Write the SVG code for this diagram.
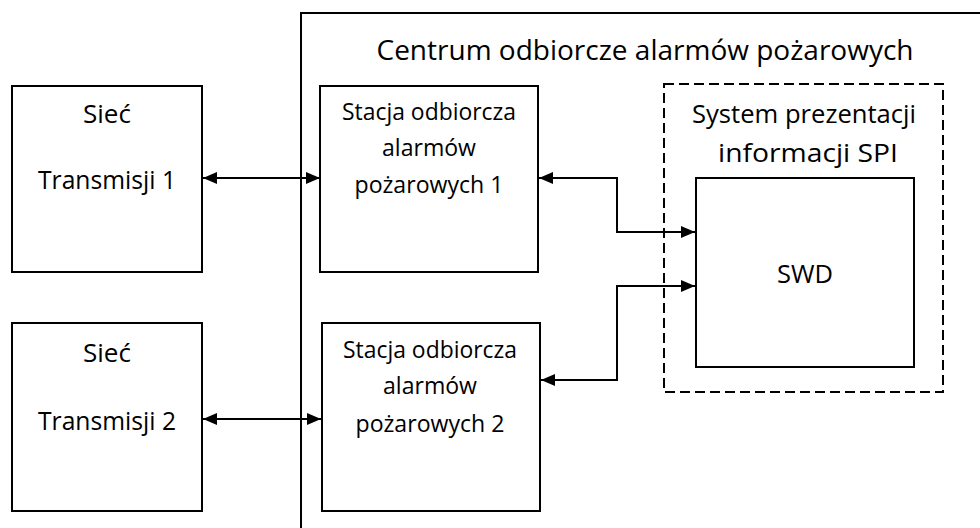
<svg xmlns="http://www.w3.org/2000/svg" width="980" height="528" viewBox="0 0 980 528">
<defs>
<style>
.box{fill:#fff;stroke:#000;stroke-width:2}
.dash{fill:none;stroke:#000;stroke-width:2;stroke-dasharray:10 5}
.ln{fill:none;stroke:#000;stroke-width:2}
.t{font-family:"Open Sans","Noto Sans",sans-serif;fill:#000;text-anchor:middle}
.tt{font-size:28px}
.tl{font-size:25px}
.tm{font-size:24px}
.tp{font-size:26px}
</style>
<marker id="ah" viewBox="0 0 14 12" refX="14" refY="6" markerWidth="14" markerHeight="12" markerUnits="userSpaceOnUse" orient="auto-start-reverse">
<path d="M0 0 L14 6 L0 12 Z" fill="#000"/>
</marker>
</defs>
<g id="centrum">
<path class="ln" d="M301 528 V13 H980"/>
<text class="t tt" x="645" y="60" textLength="537" lengthAdjust="spacingAndGlyphs">Centrum odbiorcze alarmów pożarowych</text>
</g>
<g id="siec1">
<rect class="box" x="12" y="86" width="190" height="186"/>
<text class="t tl" x="107" y="123" textLength="48" lengthAdjust="spacingAndGlyphs">Sieć</text>
<text class="t tl" x="107" y="189" textLength="138" lengthAdjust="spacingAndGlyphs">Transmisji 1</text>
</g>
<g id="siec2">
<rect class="box" x="12" y="323" width="190" height="188"/>
<text class="t tl" x="107" y="362" textLength="48" lengthAdjust="spacingAndGlyphs">Sieć</text>
<text class="t tl" x="107" y="430" textLength="138" lengthAdjust="spacingAndGlyphs">Transmisji 2</text>
</g>
<g id="stacja1">
<rect class="box" x="320" y="86" width="218" height="186"/>
<text class="t tm" x="429" y="120" textLength="174" lengthAdjust="spacingAndGlyphs">Stacja odbiorcza</text>
<text class="t tm" x="429" y="156" textLength="94" lengthAdjust="spacingAndGlyphs">alarmów</text>
<text class="t tm" x="429" y="193" textLength="149" lengthAdjust="spacingAndGlyphs">pożarowych 1</text>
</g>
<g id="stacja2">
<rect class="box" x="322" y="323" width="218" height="188"/>
<text class="t tm" x="430" y="358" textLength="174" lengthAdjust="spacingAndGlyphs">Stacja odbiorcza</text>
<text class="t tm" x="430" y="394" textLength="94" lengthAdjust="spacingAndGlyphs">alarmów</text>
<text class="t tm" x="430" y="432" textLength="149" lengthAdjust="spacingAndGlyphs">pożarowych 2</text>
</g>
<g id="spi">
<rect class="dash" x="664" y="84" width="279" height="308"/>
<text class="t tp" x="804" y="123" textLength="224" lengthAdjust="spacingAndGlyphs">System prezentacji</text>
<text class="t tp" x="808" y="162" textLength="180" lengthAdjust="spacingAndGlyphs">informacji SPI</text>
</g>
<g id="swd">
<rect class="box" x="696" y="178" width="218" height="189"/>
<text class="t tl" x="805" y="283" textLength="56" lengthAdjust="spacingAndGlyphs">SWD</text>
</g>
<g id="connectors">
<path class="ln" d="M203 178 H320" marker-start="url(#ah)" marker-end="url(#ah)"/>
<path class="ln" d="M203 419 H321" marker-start="url(#ah)" marker-end="url(#ah)"/>
<path class="ln" d="M539 178 H617 V232 H695" marker-start="url(#ah)" marker-end="url(#ah)"/>
<path class="ln" d="M541 380 H617 V286 H695" marker-start="url(#ah)" marker-end="url(#ah)"/>
</g>
</svg>
